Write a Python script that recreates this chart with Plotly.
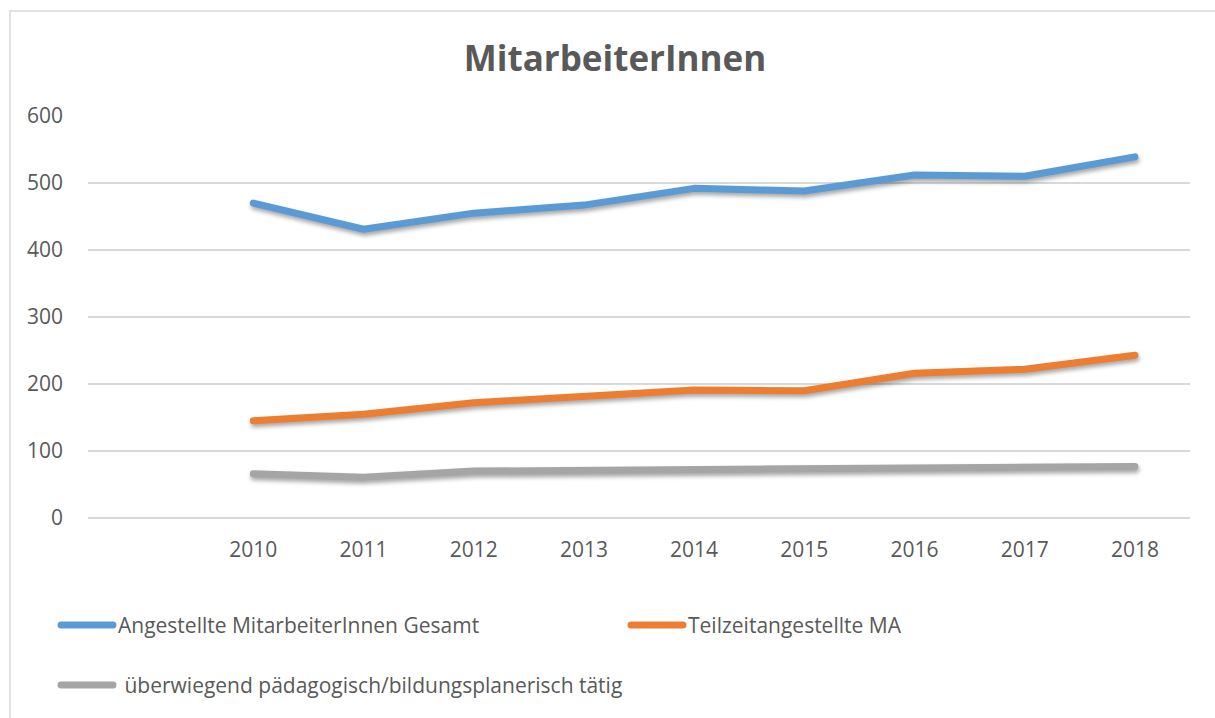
import plotly.graph_objects as go

# Staff numbers per year
years = [2010, 2011, 2012, 2013, 2014, 2015, 2016, 2017, 2018]
gesamt = [470, 431, 455, 467, 492, 488, 512, 510, 539]
teilzeit = [145, 155, 172, 182, 191, 190, 216, 222, 243]
paedagogisch = [66, 61, 70, 71, 73, 72, 75, 75, 77]

series_names = [
    "Angestellte MitarbeiterInnen Gesamt",
    "Teilzeitangestellte MA",
    "überwiegend pädagogisch/bildungsplanerisch tätig",
]
series_values = [gesamt, teilzeit, paedagogisch]
series_colors = ["#5B9BD5", "#ED7D31", "#A5A5A5"]

W, H = 1215, 718
ML, MR, MT, MB = 88, 25, 116, 200
PW, PH = W - ML - MR, H - MT - MB

FONT = "'Open Sans', Lato, sans-serif"
TEXT = "#595959"


def px_x(x):
    return (x - ML) / PW


def px_y(y):
    return (H - MB - y) / PH


fig = go.Figure()
for name, vals, col in zip(series_names, series_values, series_colors):
    fig.add_trace(go.Scatter(
        x=years, y=vals, name=name, mode="lines",
        line=dict(color=col, width=7),
        showlegend=False, hoverinfo="x+y+name",
    ))

shapes = [
    # outer chart frame
    dict(type="rect", xref="paper", yref="paper",
         x0=px_x(10), x1=px_x(1260), y0=px_y(11), y1=px_y(760),
         line=dict(color="#D9D9D9", width=1.5), fillcolor="rgba(0,0,0,0)",
         layer="below"),
]
annotations = []

# legend entries: (line start x, text x, row y, text prefix)
legend_pos = [(58, 116, 625, ""), (628, 686, 625, ""), (58, 117, 685, " ")]
for (lx, tx, ly, pre), name, col in zip(legend_pos, series_names, series_colors):
    shapes.append(dict(type="line", xref="paper", yref="paper",
                       x0=px_x(lx + 3), x1=px_x(lx + 55), y0=px_y(ly), y1=px_y(ly),
                       line=dict(color=col, width=7)))
    annotations.append(dict(text=pre + name, xref="paper", yref="paper",
                            x=px_x(tx), y=px_y(ly), xanchor="left", yanchor="middle",
                            showarrow=False, font=dict(family=FONT, size=21, color=TEXT)))

fig.update_layout(
    width=W, height=H,
    margin=dict(l=ML, r=MR, t=MT, b=MB),
    paper_bgcolor="white", plot_bgcolor="white",
    title=dict(text="<b>MitarbeiterInnen</b>", x=615 / W, xref="container", xanchor="center",
               y=1 - 59 / H, yanchor="middle",
               font=dict(family=FONT, size=35, color=TEXT)),
    font=dict(family=FONT, color=TEXT),
    xaxis=dict(range=[2008.5, 2018.5], tickvals=years, ticktext=[str(y) for y in years],
               showgrid=False, zeroline=False, showline=False, ticks="",
               tickfont=dict(family=FONT, size=21, color=TEXT), ticklabelstandoff=17,
               fixedrange=True),
    yaxis=dict(range=[0, 600], tickvals=[0, 100, 200, 300, 400, 500, 600],
               showgrid=True, gridcolor="#D9D9D9", gridwidth=1.5,
               zeroline=True, zerolinecolor="#D9D9D9", zerolinewidth=1.5,
               showline=False, ticks="",
               tickfont=dict(family=FONT, size=21, color=TEXT), ticklabelstandoff=24,
               fixedrange=True),
    shapes=shapes,
    annotations=annotations,
    showlegend=False,
)

post = """
var gd = document.getElementsByClassName('plotly-graph-div')[0];
function styleLines() {
  gd.querySelectorAll('.scatterlayer path.js-line').forEach(function (p) {
    p.style.strokeLinecap = 'round';
    p.style.strokeLinejoin = 'round';
    p.style.filter = 'drop-shadow(1px 3px 2px rgba(0,0,0,0.35))';
  });
  gd.querySelectorAll('.shapelayer path').forEach(function (p) {
    if (parseFloat(p.style.strokeWidth) > 5) { p.style.strokeLinecap = 'round'; }
  });
}
styleLines();
gd.on('plotly_afterplot', styleLines);
"""

fig.write_html("out.html", post_script=post, config={"displayModeBar": False})
